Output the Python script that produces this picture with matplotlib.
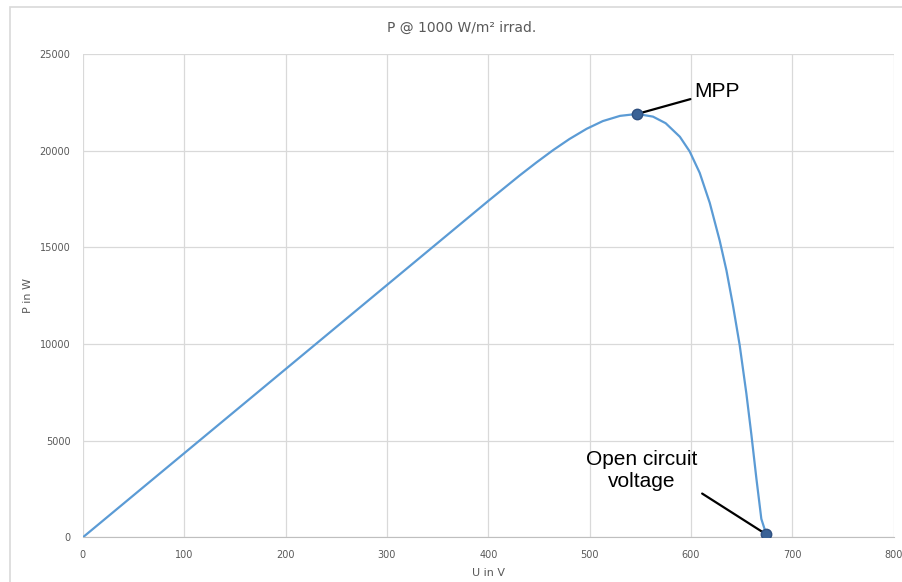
"""P-U curve of a PV string at 1000 W/m2 with MPP and open circuit voltage marked."""
import matplotlib; matplotlib.use("Agg"); import matplotlib.pyplot as plt
from matplotlib.patches import Rectangle

# curve
u_volt=[0,100,200,300,400,431,447.5,464,480,497,513,530,547,562.5,575,589,598.7,608.6,618.5,628.3,635,641.4,648,654.6,659.6,664.5,669.4,674.3]
p_watt=[0,4350,8700,13050,17400,18720,19390,20030,20600,21130,21530,21800,21900,21760,21420,20720,19960,18850,17300,15350,13800,12000,9950,7450,5300,3050,950,150]
mpp=(547,21900); voc=(674.3,150)
x_ticks=[0,100,200,300,400,500,600,700,800]; y_ticks=[0,5000,10000,15000,20000,25000]

W,H=903,582
fig=plt.figure(figsize=(W/100,H/100),dpi=100)
fig.patches.append(Rectangle((10/W,-0.02),1.1,1-7/H+0.02,transform=fig.transFigure,fill=False,ec="#d9d9d9",lw=1.2))
ax=fig.add_axes([82.9/W,1-537.3/H,(893.7-82.9)/W,(537.3-54)/H])
grid="#d9d9d9"; txt="#595959"
ax.plot(u_volt,p_watt,color="#5b9bd5",lw=1.6,zorder=3,solid_joinstyle="round")
ax.plot(*zip(mpp,voc),ls="none",marker="o",ms=7.5,mfc="#3a6296",mec="#2f5080",mew=1,zorder=4)
ax.set_xlim(0,800); ax.set_ylim(0,25000)
ax.set_xticks(x_ticks); ax.set_yticks(y_ticks)
ax.grid(True,color=grid,lw=0.9); ax.set_axisbelow(True)
for s in ["top","right","left"]: ax.spines[s].set_visible(False)
ax.spines["bottom"].set_color("#bfbfbf")
ax.tick_params(length=0,labelsize=7,labelcolor=txt,pad=9)
ax.tick_params(axis="y",pad=9)
ax.set_xlabel("U in V",fontsize=8,color=txt,labelpad=6)
ax.set_ylabel("P in W",fontsize=8,color=txt)
ax.yaxis.set_label_coords((33-82.9)/(893.7-82.9),0.5)
fig.text(462/W,1-28/H,"P @ 1000 W/m² irrad.",ha="center",va="center",fontsize=10,color=txt)
ax.annotate("MPP",xy=mpp,xytext=(603.5,23070),fontsize=15,family="Liberation Sans",ha="left",va="center",
            arrowprops=dict(arrowstyle="-",color="black",lw=1.6,shrinkA=1,shrinkB=3,relpos=(0,0.15)))
ax.annotate("Open circuit\nvoltage",xy=voc,xytext=(551,3435),fontsize=15,family="Liberation Sans",ha="center",va="center",
            linespacing=1.2,arrowprops=dict(arrowstyle="-",color="black",lw=1.6,shrinkA=2,shrinkB=3,relpos=(0.9,0.2)))
fig.savefig("out.png",dpi=100)
